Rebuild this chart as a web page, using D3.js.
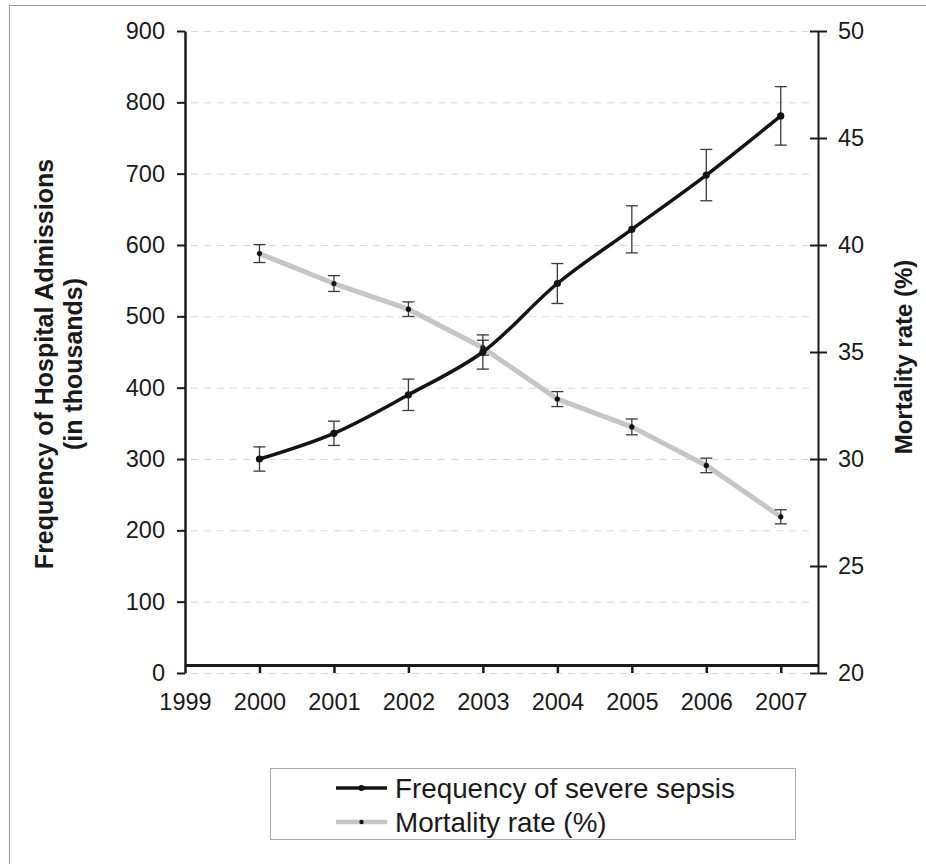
<!DOCTYPE html>
<html>
<head>
<meta charset="utf-8">
<script src="https://cdn.jsdelivr.net/npm/d3@7/dist/d3.min.js"></script>
<style>
  html, body { margin: 0; padding: 0; background: #fff; }
  svg { display: block; font-family: "Liberation Sans", Arial, Helvetica, sans-serif; }
</style>
</head>
<body>
<svg id="chart" width="926" height="864"></svg>
<script>
// ---- data ----
const years = [2000, 2001, 2002, 2003, 2004, 2005, 2006, 2007];
const xTickYears = [1999, 2000, 2001, 2002, 2003, 2004, 2005, 2006, 2007];
const sepsisFreq = [300, 336, 390, 450, 546, 622, 698, 781];
const sepsisErr = [17, 17, 22, 24, 28, 33, 36, 41];
const mortality = [39.6, 38.2, 37.0, 35.2, 32.8, 31.5, 29.7, 27.3];
const mortalityErr = [0.42, 0.37, 0.34, 0.35, 0.35, 0.37, 0.34, 0.33];
const leftTicks = [0, 100, 200, 300, 400, 500, 600, 700, 800, 900];
const rightTicks = [20, 25, 30, 35, 40, 45, 50];
const leftTitle = ["Frequency of Hospital Admissions", "(in thousands)"];
const rightTitle = "Mortality rate (%)";
const seriesNames = ["Frequency of severe sepsis", "Mortality rate (%)"];

const svg = d3.select("#chart");

// outer frame
svg.append("rect").attr("x", 9.5).attr("y", 5.5).attr("width", 940).attr("height", 880)
  .attr("fill", "none").attr("stroke", "#9a9a9a").attr("stroke-width", 1);

const x = d3.scaleLinear().domain([1999, 2007.5]).range([185, 818]);
const yL = d3.scaleLinear().domain([0, 900]).range([673, 31]);
const yR = d3.scaleLinear().domain([20, 50]).range([673, 31]);

// gridlines
svg.append("g").selectAll("line").data(leftTicks).join("line")
  .attr("x1", x(1999) + 6).attr("x2", x(2007.5) - 4)
  .attr("y1", d => yL(d) + 0.5).attr("y2", d => yL(d) + 0.5)
  .attr("stroke", "#d9d9d9").attr("stroke-width", 1).attr("stroke-dasharray", "7,6");

const tickFont = "'Liberation Sans', Arial, sans-serif";

// left axis
const gL = svg.append("g").attr("transform", `translate(${x(1999)},0)`)
  .call(d3.axisLeft(yL).tickValues(leftTicks).tickSizeInner(8).tickSizeOuter(0).tickPadding(12));
gL.select(".domain").attr("stroke", "#1a1a1a").attr("stroke-width", 2.5);
gL.selectAll(".tick line").attr("stroke", "#1a1a1a").attr("stroke-width", 2);
gL.selectAll(".tick text").attr("font-size", 23.5).attr("fill", "#1a1a1a").attr("font-family", tickFont);

// right axis
const gR = svg.append("g").attr("transform", `translate(${x(2007.5)},0)`)
  .call(d3.axisRight(yR).tickValues(rightTicks).tickSizeInner(9).tickSizeOuter(0).tickPadding(11));
gR.select(".domain").attr("stroke", "#1a1a1a").attr("stroke-width", 2);
gR.selectAll(".tick line").attr("x1", -8).attr("stroke", "#1a1a1a").attr("stroke-width", 2);
gR.selectAll(".tick text").attr("font-size", 23.5).attr("fill", "#1a1a1a").attr("font-family", tickFont);

// x axis (sits slightly above the zero line)
const xAxisY = yL(0) - 8;
const gX = svg.append("g").attr("transform", `translate(0,${xAxisY})`)
  .call(d3.axisBottom(x).tickValues(xTickYears).tickFormat(d3.format("d"))
    .tickSizeInner(8).tickSizeOuter(0).tickPadding(20));
gX.select(".domain").attr("stroke", "#1a1a1a").attr("stroke-width", 3);
gX.selectAll(".tick line").attr("stroke", "#1a1a1a").attr("stroke-width", 2.5);
gX.selectAll(".tick text").attr("font-size", 23.5).attr("fill", "#1a1a1a").attr("font-family", tickFont);
gX.selectAll(".tick").filter(d => d === 1999).select("line").remove();

// axis titles
const lt = svg.append("text").attr("transform", "translate(0,364) rotate(-90)")
  .attr("text-anchor", "middle").attr("font-weight", "bold").attr("font-size", 25).attr("fill", "#1a1a1a");
lt.append("tspan").attr("x", 0).attr("y", 53).text(leftTitle[0]);
lt.append("tspan").attr("x", 0).attr("y", 82).text(leftTitle[1]);

svg.append("text").attr("transform", "translate(912,357) rotate(-90)")
  .attr("text-anchor", "middle").attr("font-weight", "bold").attr("font-size", 24).attr("fill", "#1a1a1a")
  .text(rightTitle);

// series
const mortData = years.map((yr, i) => ({ yr, v: mortality[i], e: mortalityErr[i] }));
const freqData = years.map((yr, i) => ({ yr, v: sepsisFreq[i], e: sepsisErr[i] }));

const mortLine = d3.line().x(d => x(d.yr)).y(d => yR(d.v)).curve(d3.curveLinear);
const freqLine = d3.line().x(d => x(d.yr)).y(d => yL(d.v)).curve(d3.curveCatmullRom.alpha(0.5));

svg.append("path").datum(mortData).attr("d", mortLine)
  .attr("fill", "none").attr("stroke", "#c6c6c6").attr("stroke-width", 5).attr("stroke-linejoin", "round");

function errorBars(data, yScale, cls) {
  const g = svg.append("g").attr("class", cls);
  const cap = 6;
  g.selectAll(".v").data(data).join("line")
    .attr("x1", d => x(d.yr)).attr("x2", d => x(d.yr))
    .attr("y1", d => yScale(d.v - d.e)).attr("y2", d => yScale(d.v + d.e))
    .attr("stroke", "#3a3a3a").attr("stroke-width", 1.3);
  g.selectAll(".t").data(data).join("line")
    .attr("x1", d => x(d.yr) - cap).attr("x2", d => x(d.yr) + cap)
    .attr("y1", d => yScale(d.v + d.e)).attr("y2", d => yScale(d.v + d.e))
    .attr("stroke", "#3a3a3a").attr("stroke-width", 1.3);
  g.selectAll(".b").data(data).join("line")
    .attr("x1", d => x(d.yr) - cap).attr("x2", d => x(d.yr) + cap)
    .attr("y1", d => yScale(d.v - d.e)).attr("y2", d => yScale(d.v - d.e))
    .attr("stroke", "#3a3a3a").attr("stroke-width", 1.3);
}
errorBars(mortData, yR, "mortErr");
svg.append("g").selectAll("circle").data(mortData).join("circle")
  .attr("cx", d => x(d.yr)).attr("cy", d => yR(d.v)).attr("r", 2.6).attr("fill", "#111");

svg.append("path").datum(freqData).attr("d", freqLine)
  .attr("fill", "none").attr("stroke", "#141414").attr("stroke-width", 3.5);
errorBars(freqData, yL, "freqErr");
svg.append("g").selectAll("circle").data(freqData).join("circle")
  .attr("cx", d => x(d.yr)).attr("cy", d => yL(d.v)).attr("r", 3.6).attr("fill", "#141414");

// legend
const lg = svg.append("g");
lg.append("rect").attr("x", 270.5).attr("y", 768.5).attr("width", 525).attr("height", 71)
  .attr("fill", "#fff").attr("stroke", "#a8a8a8").attr("stroke-width", 1);
const legendRows = [
  { name: seriesNames[0], color: "#141414", w: 3.5, r: 3, y: 788 },
  { name: seriesNames[1], color: "#c6c6c6", w: 4.5, r: 2.2, y: 822 }
];
legendRows.forEach(row => {
  lg.append("line").attr("x1", 336).attr("x2", 387).attr("y1", row.y).attr("y2", row.y)
    .attr("stroke", row.color).attr("stroke-width", row.w);
  lg.append("circle").attr("cx", 361.5).attr("cy", row.y).attr("r", row.r).attr("fill", "#111");
  lg.append("text").attr("x", 395).attr("y", row.y + 10).attr("font-size", 27.8).attr("fill", "#1a1a1a")
    .text(row.name);
});
</script>
</body>
</html>
